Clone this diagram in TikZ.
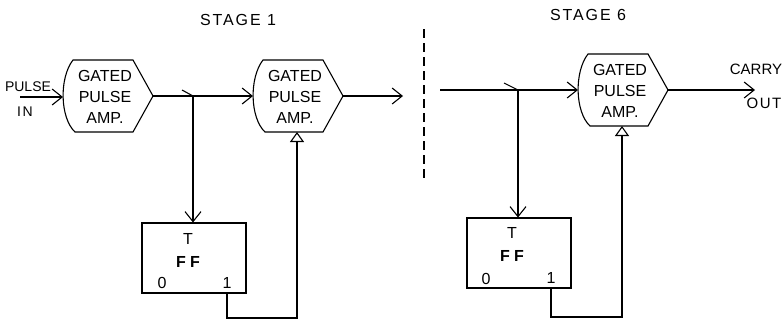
\documentclass[tikz,border=0pt]{standalone}
\usepackage{fontspec}
\setmainfont{Liberation Sans}
\usetikzlibrary{arrows.meta}
\begin{document}
\begin{tikzpicture}[x=1pt,y=-1pt, line width=1.1pt,
  lbl/.style={font=\fontsize{16}{21}\selectfont, inner sep=0pt, align=center},
  spaced/.style={font=\fontsize{16}{21}\selectfont\addfontfeature{LetterSpace=12}, inner sep=0pt},
  ffbox/.style={draw, minimum width=104pt, minimum height=70pt, inner sep=0pt},
  barb/.style={-{Straight Barb[length=10pt,width=16pt]}},
  gate/.style={-{Triangle[open,length=10pt,width=14pt,fill=white]}},
  pics/gpa/.style={code={
    \draw (10,-36) -- (70,-36) -- (90,0) -- (70,36) -- (12,36)
      .. controls (-3,22) and (-4,-18) .. (10,-36) -- cycle;
    \coordinate (-in) at (0,0);
    \coordinate (-out) at (90,0);
    \coordinate (-bot) at (44,36);
    \node[lbl] (-txt) at (42,1) {GATED\\PULSE\\AMP.};
  }}]
\useasboundingbox (0,0) rectangle (783,322);

% stage titles
\node[spaced] (st1) at (238,20) {STAGE 1};
\node[spaced] (st6) at (588,15) {STAGE 6};

% ---------------- stage 1 ----------------
\pic (h1) at (63,96) {gpa};
\pic (h2) at (253,96) {gpa};
\node[lbl,font=\fontsize{14}{18}\selectfont] (pulse) at (28,87) {PULSE};
\node[spaced,font=\fontsize{14}{18}\selectfont\addfontfeature{LetterSpace=12}] (in) at (25,112) {IN};
\coordinate (pin) at (20,97);
\draw[barb] (pin) -- (pin -| h1-in);
\coordinate (j1) at (193,96);
\coordinate (t1) at (182,90);
\draw[barb] (h1-out) -- (h2-in);
\draw (t1) -- (j1);
\node[ffbox] (ff1) at (194,258) {};
\node[lbl] (ff1t) at (188,239) {T};
\node[lbl,font=\fontsize{16}{21}\selectfont\bfseries] (ff1f) at (188,262) {F F};
\node[lbl] (ff1z) at (162,283) {0};
\node[lbl] (ff1o) at (227,283) {1};
\draw[barb] (j1) -- (j1 |- ff1.north);
\coordinate (o1) at (403,96);
\draw[barb] (h2-out) -- (o1);
\coordinate (b1) at (h2-bot |- 0,318);
\draw[gate] (ff1o |- ff1.south) |- (b1) -- (h2-bot);

% separator
\coordinate (d1) at (424,29);
\coordinate (d2) at (424,180);
\draw[dash pattern=on 9pt off 5pt] (d1) -- (d2);

% ---------------- stage 6 ----------------
\pic (h3) at (578,90) {gpa};
\coordinate (in6) at (440,90);
\coordinate (j2) at (518,90);
\coordinate (t2) at (504,83);
\draw[barb] (in6) -- (h3-in);
\draw (t2) -- (j2);
\node[ffbox] (ff2) at (519,253) {};
\node[lbl] (ff2t) at (512,233) {T};
\node[lbl,font=\fontsize{16}{21}\selectfont\bfseries] (ff2f) at (512,256) {F F};
\node[lbl] (ff2z) at (486,279) {0};
\node[lbl] (ff2o) at (551,278) {1};
\draw[barb] (j2) -- (j2 |- ff2.north);
\coordinate (co) at (755,90);
\draw[barb] (h3-out) -- (co);
\node[lbl,font=\fontsize{15}{18}\selectfont] (carry) at (756,69) {CARRY};
\node[spaced,font=\fontsize{15}{18}\selectfont\addfontfeature{LetterSpace=10}] (out) at (764,103) {OUT};
\coordinate (b2) at (h3-bot |- 0,317);
\draw[gate] (ff2o |- ff2.south) |- (b2) -- (h3-bot);
\end{tikzpicture}
\end{document}
